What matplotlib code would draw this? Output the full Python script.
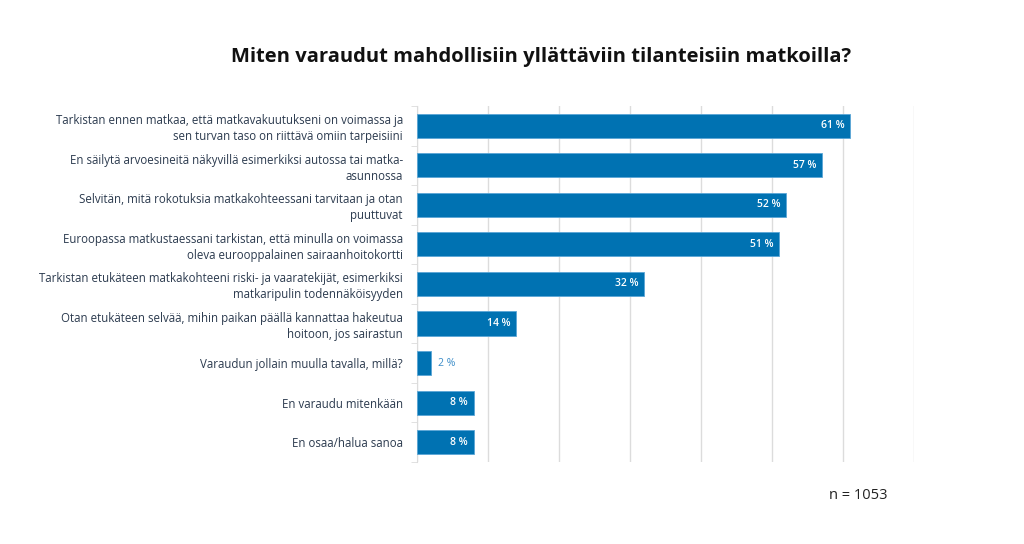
import matplotlib.pyplot as plt

categories = [
    "Tarkistan ennen matkaa, että matkavakuutukseni on voimassa ja\nsen turvan taso on riittävä omiin tarpeisiini",
    "En säilytä arvoesineitä näkyvillä esimerkiksi autossa tai matka-\nasunnossa",
    "Selvitän, mitä rokotuksia matkakohteessani tarvitaan ja otan\npuuttuvat",
    "Euroopassa matkustaessani tarkistan, että minulla on voimassa\noleva eurooppalainen sairaanhoitokortti",
    "Tarkistan etukäteen matkakohteeni riski- ja vaaratekijät, esimerkiksi\nmatkaripulin todennäköisyyden",
    "Otan etukäteen selvää, mihin paikan päällä kannattaa hakeutua\nhoitoon, jos sairastun",
    "Varaudun jollain muulla tavalla, millä?",
    "En varaudu mitenkään",
    "En osaa/halua sanoa",
]
values = [61, 57, 52, 51, 32, 14, 2, 8, 8]
xticks = [0, 10, 20, 30, 40, 50, 60, 70]

plt.rcParams['font.family'] = ['Open Sans', 'DejaVu Sans']
bar_color = "#0072b2"
text_color = "#2b3a4e"

fig = plt.figure(figsize=(10.24, 5.44), dpi=100)
ax = fig.add_axes([0.407, 0.151, 0.4855, 0.654])

pos = list(range(len(values)))
ax.barh(pos, values, height=0.61, color=bar_color, edgecolor="#5aa6d6", linewidth=0.6, zorder=3)
ax.set_ylim(len(values) - 0.5, -0.5)
ax.set_xlim(0, 70)

for y, v in zip(pos, values):
    if v >= 5:
        ax.text(v - 0.8, y, f"{v} %", ha="right", va="center", color="white",
                fontsize=7.5, fontweight="semibold", zorder=4)
    else:
        ax.text(v + 1.0, y, f"{v} %", ha="left", va="center", color="#3a8cc8",
                fontsize=7.5, zorder=4)

ax.set_xticks(xticks)
ax.set_xticklabels([])
ax.tick_params(axis="x", length=0)
ax.grid(axis="x", color="#dcdcdc", linewidth=1, zorder=0)

ax.set_yticks([p + 0.5 for p in pos[:-1]] + [-0.5, len(values) - 0.5], minor=True)
ax.set_yticks(pos)
ax.set_yticklabels(categories, fontsize=8.3, color=text_color, ha="right", linespacing=1.3)
ax.tick_params(axis="y", which="major", length=0, pad=10)
ax.tick_params(axis="y", which="minor", length=4, color="#dcdcdc")

for s in ["top", "right", "bottom"]:
    ax.spines[s].set_visible(False)
ax.spines["left"].set_color("#dcdcdc")

fig.text(0.528, 0.895, "Miten varaudut mahdollisiin yllättäviin tilanteisiin matkoilla?",
         ha="center", va="center", fontsize=14.5, fontweight="bold", color="#111111")
fig.text(0.838, 0.09, "n = 1053", ha="center", va="center", fontsize=10.5, color="#222222")

fig.savefig("out.png", dpi=100)
